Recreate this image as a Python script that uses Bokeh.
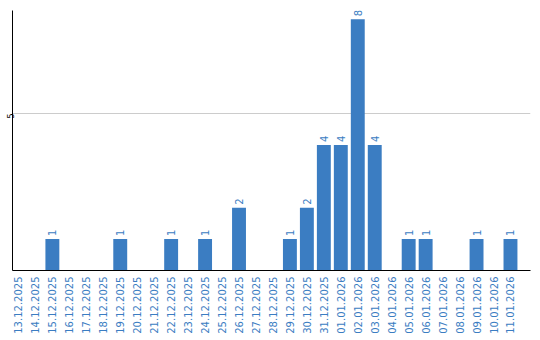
import math
from bokeh.plotting import figure
from bokeh.models import ColumnDataSource, Range1d, FixedTicker
from bokeh.core.properties import value
from bokeh.embed import file_html
from bokeh.resources import INLINE

dates = ["13.12.2025", "14.12.2025", "15.12.2025", "16.12.2025", "17.12.2025",
         "18.12.2025", "19.12.2025", "20.12.2025", "21.12.2025", "22.12.2025",
         "23.12.2025", "24.12.2025", "25.12.2025", "26.12.2025", "27.12.2025",
         "28.12.2025", "29.12.2025", "30.12.2025", "31.12.2025", "01.01.2026",
         "02.01.2026", "03.01.2026", "04.01.2026", "05.01.2026", "06.01.2026",
         "07.01.2026", "08.01.2026", "09.01.2026", "10.01.2026", "11.01.2026"]
counts = [0, 0, 1, 0, 0, 0, 1, 0, 0, 1, 0, 1, 0, 2, 0, 0, 1, 2, 4, 4, 8, 4, 0, 1, 1, 0, 0, 1, 0, 1]

BLUE = "#3b7dc2"

idx = list(range(len(dates)))
src = ColumnDataSource(dict(x=idx, y=counts, lbl=[str(c) for c in counts]))
nz = [i for i, c in enumerate(counts) if c > 0]
lsrc = ColumnDataSource(dict(x=[idx[i] for i in nz], y=[counts[i] for i in nz],
                             lbl=[str(counts[i]) for i in nz]))

p = figure(width=540, height=340, output_backend="svg", toolbar_location=None,
           x_range=Range1d(-0.35, 30.18), y_range=Range1d(0, 8.28),
           min_border_left=11, min_border_right=10, min_border_top=10, min_border_bottom=70)
p.outline_line_color = None
p.background_fill_color = "white"
p.border_fill_color = "white"

p.vbar(x="x", top="y", width=0.82, bottom=0, source=src, fill_color=BLUE, line_color=None)
p.text(x="x", y="y", text="lbl", source=lsrc, angle=math.pi / 2, text_align="left",
       text_baseline="middle", y_offset=-3, text_color=BLUE,
       text_font=value("DejaVu Sans"), text_font_size="10px")

p.xgrid.grid_line_color = None
p.ygrid.ticker = FixedTicker(ticks=[5])
p.ygrid.grid_line_color = "#cccccc"

xa = p.xaxis[0]
xa.ticker = FixedTicker(ticks=idx)
xa.major_label_overrides = {i: d for i, d in zip(idx, dates)}
xa.major_label_orientation = math.pi / 2
xa.major_label_text_color = BLUE
xa.major_label_text_font = "DejaVu Sans"
xa.major_label_text_font_size = "10px"
xa.major_tick_out = 0
xa.major_tick_in = 0
xa.minor_tick_out = 0
xa.minor_tick_in = 0
xa.major_label_standoff = 6
xa.axis_line_color = "black"

ya = p.yaxis[0]
ya.ticker = FixedTicker(ticks=[5])
ya.major_label_orientation = math.pi / 2
ya.major_label_text_font = "DejaVu Sans"
ya.major_label_text_font_size = "8px"
ya.major_label_text_color = "black"
ya.major_tick_out = 0
ya.major_tick_in = 0
ya.minor_tick_out = 0
ya.minor_tick_in = 0
ya.major_label_standoff = 2
ya.axis_line_color = "black"

open("out.html", "w").write(file_html(p, INLINE))
